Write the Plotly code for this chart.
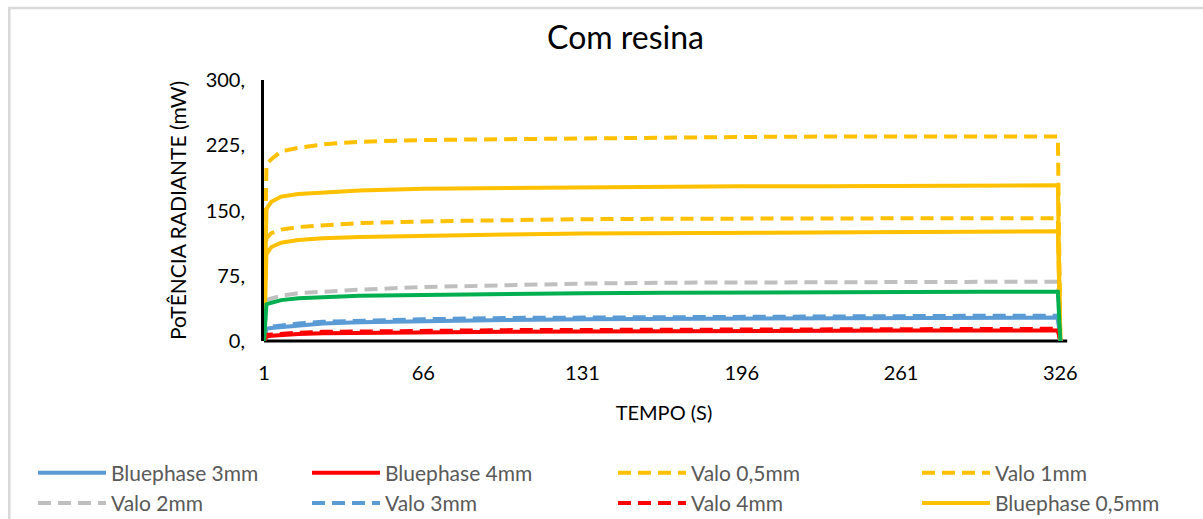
import plotly.graph_objects as go

# time samples (s)
tempo = [1, 2, 4, 8, 15, 25, 40, 66, 100, 131, 165, 196, 230, 261, 295, 325, 326]

bluephase_3mm = [0, 14, 15, 16, 18, 20, 21.5, 23, 24, 25, 25.5, 26, 26.5, 26.5, 27, 27, 0]
bluephase_4mm = [0, 5, 6, 7, 8, 9, 9.5, 10, 10.5, 11, 11.5, 11.5, 12, 12, 12, 12, 0]
valo_05mm = [0, 203, 209, 218, 222, 226, 229, 231, 232, 233, 234, 234.5, 235, 235, 235, 235, 0]
valo_1mm = [0, 118, 124, 128, 131, 133, 135.5, 137.5, 139, 140, 140.5, 141, 141, 141, 141, 141, 0]
valo_2mm = [0, 47, 49, 52, 55, 57, 59, 62, 64.5, 66, 67, 67.5, 68, 68, 68, 68, 0]
valo_3mm = [0, 15, 16.5, 18, 20, 22, 23.5, 25, 26.5, 27, 27.5, 28, 28.5, 28.5, 29, 29, 0]
valo_4mm = [0, 7, 7.5, 8.5, 9.5, 10.5, 11, 11.5, 12.5, 12.7, 13, 13.5, 13.5, 14, 14, 14, 0]
bluephase_05mm = [0, 152, 160, 166, 169, 171, 173, 175, 176, 177, 177.5, 178, 178, 178.5, 179, 179, 0]
bluephase_1mm = [0, 100, 108, 113, 116, 118, 119.5, 121, 122.5, 123.5, 124, 124.5, 125, 125.5, 126, 126, 0]
bluephase_2mm = [0, 42, 44, 47, 49, 50.5, 52, 53, 54.5, 55, 55.5, 56, 56, 56.5, 56.5, 56.5, 0]

y_ticks = [0, 75, 150, 225, 300]
y_tick_text = ["0,", "75,", "150,", "225,", "300,"]
x_ticks = [1, 66, 131, 196, 261, 326]

BLUE = "#5b9bd5"
RED = "#ff0000"
YELLOW = "#ffc000"
GRAY = "#bfbfbf"
GREEN = "#00b050"
DASH = "13px,7px"

# (name, values, colour, dash, legend column or None)
series = [
    ("Bluephase 3mm", bluephase_3mm, BLUE, "solid", "legend"),
    ("Bluephase 4mm", bluephase_4mm, RED, "solid", "legend2"),
    ("Valo 0,5mm", valo_05mm, YELLOW, DASH, "legend3"),
    ("Valo 1mm", valo_1mm, YELLOW, DASH, "legend4"),
    ("Valo 2mm", valo_2mm, GRAY, DASH, "legend"),
    ("Valo 3mm", valo_3mm, BLUE, DASH, "legend2"),
    ("Valo 4mm", valo_4mm, RED, DASH, "legend3"),
    ("Bluephase 0,5mm", bluephase_05mm, YELLOW, "solid", "legend4"),
    ("Bluephase 1mm", bluephase_1mm, YELLOW, "solid", None),
    ("Bluephase 2mm", bluephase_2mm, GREEN, "solid", None),
]

FONT = "Lato"

fig = go.Figure()
for name, vals, color, dash, leg in series:
    kw = dict(legend=leg) if leg else dict(showlegend=False)
    fig.add_trace(go.Scatter(
        x=tempo, y=vals, name=name, mode="lines",
        line=dict(color=color, width=4, dash=dash),
        **kw,
    ))

def legend_col(xpx):
    # horizontal legend whose wide entries wrap to one entry per row
    return dict(orientation="h", xref="container", yref="container",
                x=xpx / 1203, y=0.128, xanchor="left", yanchor="top",
                entrywidth=450, tracegroupgap=0, itemwidth=68, traceorder="normal",
                font=dict(size=21, color="#595959", family=FONT),
                bgcolor="rgba(0,0,0,0)")

fig.update_layout(
    width=1203, height=519,
    margin=dict(l=264, r=139, t=80, b=178),
    paper_bgcolor="white", plot_bgcolor="white",
    font=dict(family=FONT, color="black"),
    title=dict(text="Com resina", x=0.52, xanchor="center", y=0.948, yanchor="top",
               font=dict(size=32, color="black", family=FONT)),
    xaxis=dict(range=[1, 327.5], tickvals=x_ticks, ticktext=[str(v) for v in x_ticks],
               showgrid=False, zeroline=False, showline=False,
               tickfont=dict(size=20, color="black"), ticks="", ticklabelstandoff=18,
               title=dict(text="TEMPO (S)", font=dict(size=20, color="black"), standoff=22)),
    yaxis=dict(range=[0, 300], tickvals=y_ticks, ticktext=y_tick_text,
               showgrid=False, zeroline=False, showline=True, linecolor="black", linewidth=3,
               tickfont=dict(size=20, color="black"), ticks="", ticklabelstandoff=12,
               title=dict(text="PoTÊNCIA RADIANTE (mW)", font=dict(size=21, color="black"), standoff=14)),
    legend=legend_col(33),
    legend2=legend_col(307),
    legend3=legend_col(613),
    legend4=legend_col(917),
    shapes=[
        dict(type="line", xref="paper", yref="paper", x0=0, x1=1.004, y0=0, y1=0,
             line=dict(color="black", width=3), layer="below"),
        dict(type="rect", xref="paper", yref="paper", x0=-0.3184, x1=1.2, y0=-0.75, y1=1.2759,
             line=dict(color="#d9d9d9", width=2.5), layer="below"),
    ],
)

fig.write_html("out.html")
